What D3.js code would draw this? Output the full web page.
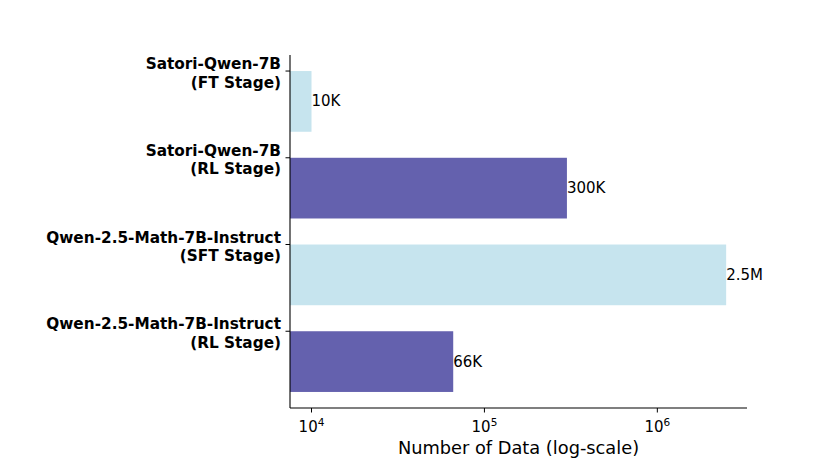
<!DOCTYPE html>
<html><head><meta charset="utf-8">
<script src="https://cdn.jsdelivr.net/npm/d3@7"></script>
<style>body{margin:0;background:#fff}svg{display:block}text{font-family:"DejaVu Sans",sans-serif}</style>
</head><body>
<svg id="c" width="830" height="461"></svg>
<script>
const categoryLine1 = ["Satori-Qwen-7B", "Satori-Qwen-7B", "Qwen-2.5-Math-7B-Instruct", "Qwen-2.5-Math-7B-Instruct"];
const categoryLine2 = ["(FT Stage)", "(RL Stage)", "(SFT Stage)", "(RL Stage)"];
const values = [10000, 300000, 2500000, 66000];
const valueLabels = ["10K", "300K", "2.5M", "66K"];
const barColors = ["#c6e4ee", "#6461ae", "#c6e4ee", "#6461ae"];
const xTickExps = [4, 5, 6];
const xLabel = "Number of Data (log-scale)";

const svg = d3.select("#c");
const L = 290, R = 747, T = 55, B = 408;
const x = d3.scaleLog().domain([7510, 3.3e6]).range([L, R]);
const idx = d3.range(values.length);
const step = (B - T) / 4.07;
const y0 = T + 0.185 * step;
const y = d3.scaleBand().domain(idx).range([y0, y0 + 4 * step]).paddingInner(0).paddingOuter(0);
const bh = y.step() * 0.7;

svg.selectAll("rect.bar").data(idx).join("rect")
  .attr("x", L).attr("y", i => y(i))
  .attr("width", i => x(values[i]) - L).attr("height", bh)
  .attr("fill", i => barColors[i]);

svg.selectAll("text.val").data(idx).join("text")
  .attr("x", i => x(values[i])).attr("y", i => y(i) + bh / 2)
  .attr("dominant-baseline", "central").attr("font-size", 15)
  .text(i => valueLabels[i]);

svg.append("line").attr("x1", L).attr("x2", L).attr("y1", T).attr("y2", B).attr("stroke", "#000").attr("stroke-width", 1.1);
svg.append("line").attr("x1", L).attr("x2", R).attr("y1", B).attr("y2", B).attr("stroke", "#000").attr("stroke-width", 1.1);

const yt = svg.append("g");
idx.forEach(i => {
  const ty = y(i);
  yt.append("line").attr("x1", L - 4.5).attr("x2", L).attr("y1", ty).attr("y2", ty).attr("stroke", "#000").attr("stroke-width", 1);
  const t = yt.append("text").attr("text-anchor", "end").attr("font-weight", "bold").attr("font-size", 15.3);
  t.append("tspan").attr("x", L - 9).attr("y", ty - 2).text(categoryLine1[i]);
  t.append("tspan").attr("x", L - 9).attr("y", ty + 16.5).text(categoryLine2[i]);
});

const xt = svg.append("g");
xTickExps.forEach(e => {
  const tx = x(Math.pow(10, e));
  xt.append("line").attr("x1", tx).attr("x2", tx).attr("y1", B).attr("y2", B + 4.5).attr("stroke", "#000").attr("stroke-width", 1);
  const t = xt.append("text").attr("x", tx).attr("y", 432).attr("text-anchor", "middle").attr("font-size", 15);
  t.append("tspan").text("10");
  t.append("tspan").attr("dy", -6.5).attr("font-size", 10.5).text(e);
});

svg.append("text").attr("x", (L + R) / 2).attr("y", 454).attr("text-anchor", "middle").attr("font-size", 17.8).text(xLabel);
</script>
</body></html>
